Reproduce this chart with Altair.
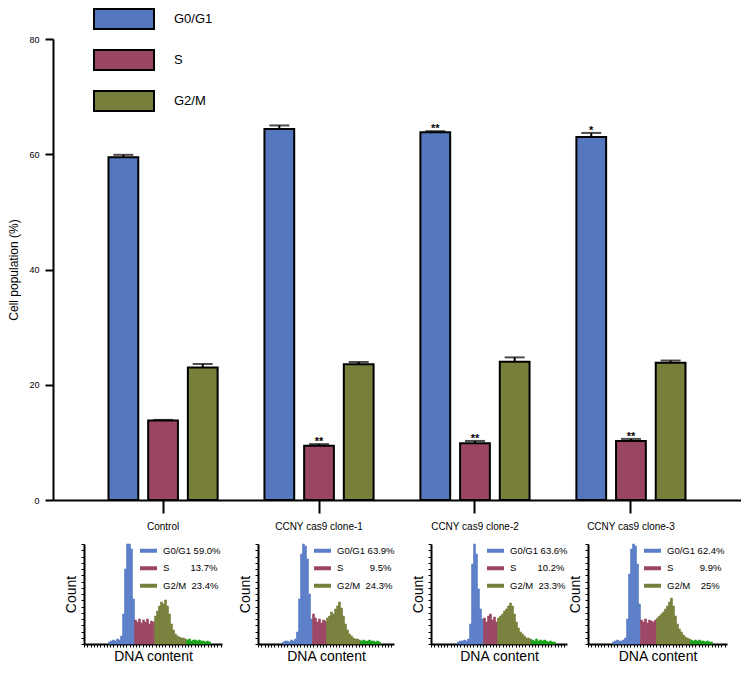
import altair as alt
import pandas as pd

# ---------------- main bar chart data ----------------
groups = ["Control", "CCNY cas9 clone-1", "CCNY cas9 clone-2", "CCNY cas9 clone-3"]
phases = ["G0/G1", "S", "G2/M"]
g1_mean = [59.5, 64.4, 63.8, 63.0]
g1_err = [0.4, 0.6, 0.2, 0.7]
s_mean = [13.8, 9.4, 9.85, 10.25]
s_err = [0.1, 0.3, 0.4, 0.35]
g2_mean = [23.0, 23.55, 24.0, 23.8]
g2_err = [0.6, 0.4, 0.75, 0.4]
g1_sig = ["", "", "**", "*"]
s_sig = ["", "**", "**", "**"]
g2_sig = ["", "", "", ""]

BLUE, MAROON, OLIVE, GREEN = "#5577BD", "#9A4563", "#787F3A", "#17A317"
HBLUE = "#5B7EC8"

rows = []
for ph, means, errs, sigs in [("G0/G1", g1_mean, g1_err, g1_sig),
                              ("S", s_mean, s_err, s_sig),
                              ("G2/M", g2_mean, g2_err, g2_sig)]:
    for g, m, e, s in zip(groups, means, errs, sigs):
        rows.append({"group": g, "phase": ph, "mean": m, "top": m + e, "sig": s})
main_df = pd.DataFrame(rows)

# ---------------- histogram data (DNA content, bin width 2) ----------------
ctrl_x0 = 24
ctrl_counts = [2, 3, 4, 3, 5, 4, 8, 30, 75, 100, 100, 95, 45,
               24, 22, 25, 21, 24, 22, 25, 20, 23, 22,
               28, 33, 38, 42, 40, 44, 38, 30, 20, 14, 10, 8, 7, 6, 6, 5,
               4, 5, 3, 4, 4, 3, 4, 3, 3, 2, 3, 2]
ctrl_gates = [50, 70, 102]
ctrl_labels = ["G0/G1 59.0%", "\u00a0S" + "\u00a0" * 8 + "13.7%", "G2/M\u00a0\u00a023.4%"]

c1_x0 = 24
c1_counts = [2, 3, 3, 2, 4, 3, 5, 12, 45, 90, 100, 98, 85, 50, 25,
             30, 26, 22, 25, 21, 24, 23,
             26, 28, 32, 30, 35, 38, 42, 36, 28, 20, 14, 10, 8, 6, 5, 5, 4,
             3, 4, 3, 3, 4, 3, 3, 2, 3, 2]
c1_gates = [54, 68, 102]
c1_labels = ["G0/G1 63.9%", "\u00a0S" + "\u00a0" * 10 + "9.5%", "G2/M\u00a0\u00a024.3%"]

c2_x0 = 26
c2_counts = [2, 3, 3, 4, 3, 5, 20, 80, 100, 90, 55, 35, 25,
             26, 22, 28, 30, 24, 27, 22,
             26, 28, 30, 33, 35, 38, 41, 38, 30, 22, 16, 12, 10, 8, 6, 6, 5,
             4, 3, 5, 3, 4, 3, 4, 3, 2, 3, 2, 2]
c2_gates = [52, 66, 100]
c2_labels = ["G0/G1 63.6%", "\u00a0S" + "\u00a0" * 8 + "10.2%", "G2/M\u00a0\u00a023.3%"]

c3_x0 = 24
c3_counts = [2, 3, 4, 3, 3, 4, 6, 25, 70, 95, 100, 98, 80, 40,
             24, 22, 25, 21, 24, 23, 22, 24,
             26, 28, 30, 32, 35, 38, 42, 46, 38, 28, 20, 15, 12, 9, 7, 6, 5,
             4, 3, 4, 3, 4, 3, 3, 2, 3, 2, 2]
c3_gates = [52, 68, 102]
c3_labels = ["G0/G1 62.4%", "\u00a0S" + "\u00a0" * 10 + "9.9%", "G2/M\u00a0\u00a0\u00a0\u00a025%"]


def panel_df(x0, counts, gates):
    out = []
    for i, c in enumerate(counts):
        x = x0 + 2 * i
        if x < gates[0]:
            ph = "G0/G1"
        elif x < gates[1]:
            ph = "S"
        elif x < gates[2]:
            ph = "G2/M"
        else:
            ph = "Other"
        out.append({"x": x, "x2": x + 2, "count": c, "phase": ph})
    return pd.DataFrame(out)


FONT = "Liberation Sans, Arial, sans-serif"

# ---------------- main chart ----------------
x_enc = alt.X("group:N", sort=groups,
              scale=alt.Scale(paddingInner=0, paddingOuter=0.2057),
              axis=alt.Axis(title=None, labelAngle=0, tickSize=13, tickWidth=2,
                            domainWidth=2, labelFontSize=10, labelPadding=8))
xo_enc = alt.XOffset("phase:N", sort=phases,
                     scale=alt.Scale(paddingInner=0.25, paddingOuter=0.59))
y_scale = alt.Scale(domain=[0, 80])

main_color = alt.Color(
    "phase:N",
    scale=alt.Scale(domain=phases, range=[BLUE, MAROON, OLIVE]),
    legend=alt.Legend(orient="none", legendX=60, legendY=-31, title=None,
                      symbolType="M-3,-1H3V1H-3Z", symbolSize=400,
                      symbolStrokeColor="black", symbolStrokeWidth=2,
                      symbolOpacity=1, labelOffset=39, rowPadding=13,
                      labelFontSize=13, padding=0,
                      labelExpr="datum.label == 'S' ? '\u00a0\u00a0S' : datum.label"))

bars = alt.Chart(main_df).mark_bar(stroke="black", strokeWidth=2, opacity=1).encode(
    x=x_enc, xOffset=xo_enc,
    y=alt.Y("mean:Q", scale=y_scale,
            axis=alt.Axis(values=[0, 20, 40, 60, 80], title="Cell population (%)",
                          tickSize=8, tickWidth=2, domainWidth=2, labelFontSize=9,
                          labelPadding=6, titleFontSize=12, titleFontWeight="normal",
                          titlePadding=8)),
    color=main_color)

err = alt.Chart(main_df).mark_rule(color="black", strokeWidth=2).encode(
    x=alt.X("group:N", sort=groups), xOffset=alt.XOffset("phase:N", sort=phases),
    y=alt.Y("mean:Q"), y2="top:Q")

caps = alt.Chart(main_df).mark_tick(color="black", thickness=2, size=20, orient="horizontal").encode(
    x=alt.X("group:N", sort=groups), xOffset=alt.XOffset("phase:N", sort=phases),
    y=alt.Y("top:Q"))

stars = alt.Chart(main_df).mark_text(baseline="alphabetic", dy=1, fontSize=11,
                                     fontWeight="bold", color="black").encode(
    x=alt.X("group:N", sort=groups), xOffset=alt.XOffset("phase:N", sort=phases),
    y=alt.Y("top:Q"), text="sig:N")

main = alt.layer(bars, err, caps, stars).properties(width=688, height=461)

# ---------------- histogram panels ----------------
hx_minor = [round(i * 3.25, 2) for i in range(43)]
hy_minor = [round(i * 6.25, 2) for i in range(17)]
hist_domain = ["G0/G1", "S", "G2/M", "Other"]
hist_range = [HBLUE, MAROON, OLIVE, GREEN]


def label_expr(labels):
    return ("datum.label == 'G0/G1' ? '%s' : datum.label == 'S' ? '%s' : '%s'"
            % (labels[0], labels[1], labels[2]))


def hist(df, labels, width):
    return alt.Chart(df).mark_bar(opacity=1, strokeWidth=0.6, binSpacing=0).encode(
        x=alt.X("x:Q", bin="binned",
                scale=alt.Scale(domain=[0, width], nice=False, zero=False),
                axis=alt.Axis(title="DNA content", labels=False, values=hx_minor,
                              tickSize=3, tickWidth=1, domainWidth=2, grid=False,
                              titleFontSize=14, titleFontWeight="normal",
                              titlePadding=2)),
        x2="x2:Q",
        y=alt.Y("count:Q", scale=alt.Scale(domain=[0, 100], nice=False),
                axis=alt.Axis(title="Count", labels=False, values=hy_minor,
                              tickSize=3, tickWidth=1, domainWidth=2, grid=False,
                              titleFontSize=14, titleFontWeight="normal",
                              titlePadding=2)),
        stroke=alt.Stroke("phase:N",
                          scale=alt.Scale(domain=hist_domain, range=hist_range),
                          legend=None),
        color=alt.Color("phase:N",
                        scale=alt.Scale(domain=hist_domain, range=hist_range),
                        legend=alt.Legend(orient="none", legendX=59.75, legendY=2,
                                          title=None, values=["G0/G1", "S", "G2/M"],
                                          symbolType="M-4.25,-1H4.25V1H-4.25Z",
                                          symbolSize=16, symbolStrokeWidth=0,
                                          symbolOpacity=1, labelOffset=9.75,
                                          rowPadding=6.5, labelFontSize=9.5, padding=0,
                                          labelExpr=label_expr(labels))),
    ).properties(width=width, height=100)


h1 = hist(panel_df(ctrl_x0, ctrl_counts, ctrl_gates), ctrl_labels, 138)
h2 = hist(panel_df(c1_x0, c1_counts, c1_gates), c1_labels, 136)
h3 = hist(panel_df(c2_x0, c2_counts, c2_gates), c2_labels, 136)
h4 = hist(panel_df(c3_x0, c3_counts, c3_gates), c3_labels, 139)

spacer = alt.Chart(pd.DataFrame({"v": [0]})).mark_point(opacity=0).properties(width=11, height=100)

first3 = alt.hconcat(h1, h2, h3, spacing=16).resolve_scale(
    color="independent", stroke="independent").resolve_legend(color="independent", stroke="independent")
hist_row = alt.hconcat(spacer, first3, h4, spacing=0).resolve_scale(
    color="independent", stroke="independent").resolve_legend(color="independent", stroke="independent")

chart = alt.vconcat(main, hist_row, spacing=12).resolve_scale(
    color="independent", stroke="independent").resolve_legend(
    color="independent", stroke="independent").properties(
    padding={"left": -1, "top": 0, "right": 0, "bottom": 0}
).configure_view(stroke=None).configure_axis(
    labelFont=FONT, titleFont=FONT, domainColor="black", tickColor="black",
    labelColor="black", titleColor="black", grid=False
).configure_legend(labelFont=FONT, labelColor="black").configure_text(font=FONT)

chart.save("out.html", embed_options={"renderer": "svg", "actions": False})
